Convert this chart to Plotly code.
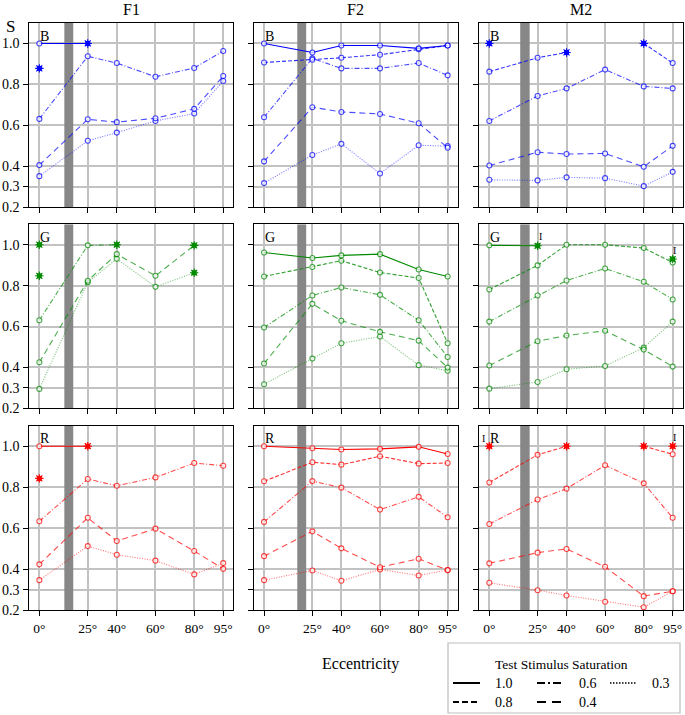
import plotly.graph_objects as go

# ---------------- data ----------------
ECC = [0, 25, 40, 60, 80, 95]
ECC_LABELS = ["0°", "25°", "40°", "60°", "80°", "95°"]
SATURATIONS = ["1.0", "0.8", "0.6", "0.4", "0.3"]
COLUMNS = ["F1", "F2", "M2"]
ROWS = ["B", "G", "R"]
Y_TICKS = [0.2, 0.3, 0.4, 0.6, 0.8, 1.0]
Y_LABELS = ["0.2", "0.3", "0.4", "0.6", "0.8", "1.0"]
N = None

# each panel: series in saturation order 1.0, 0.8, 0.6, 0.4, 0.3
F1_B = [
    [1.00, 1.00, N, N, N, N],
    [0.878, N, N, N, N, N],
    [0.631, 0.937, 0.904, 0.837, 0.880, 0.963],
    [0.405, 0.629, 0.615, 0.634, 0.680, 0.841],
    [0.351, 0.524, 0.564, 0.621, 0.657, 0.816],
]
F1_G = [
    [1.00, N, N, N, N, N],
    [0.848, N, N, N, N, N],
    [0.631, 0.997, 1.00, N, N, N],
    [0.425, 0.824, 0.954, 0.848, 0.997, N],
    [0.295, 0.816, 0.931, 0.794, 0.863, N],
]
F1_R = [
    [1.00, 1.00, N, N, N, N],
    [0.843, N, N, N, N, N],
    [0.634, 0.840, 0.807, 0.848, 0.918, 0.905],
    [0.424, 0.651, 0.538, 0.598, 0.489, 0.402],
    [0.347, 0.513, 0.471, 0.442, 0.375, 0.430],
]
F2_B = [
    [1.00, 0.956, 0.990, 0.990, 0.976, 0.990],
    [0.907, 0.920, 0.930, 0.945, 0.972, 0.990],
    [0.639, 0.927, 0.878, 0.878, 0.904, 0.844],
    [0.423, 0.688, 0.665, 0.655, 0.610, 0.490],
    [0.317, 0.454, 0.509, 0.364, 0.502, 0.498],
]
F2_G = [
    [0.962, 0.935, 0.948, 0.954, 0.879, 0.845],
    [0.845, 0.891, 0.922, 0.864, 0.837, 0.518],
    [0.595, 0.752, 0.791, 0.755, 0.631, 0.451],
    [0.419, 0.711, 0.628, 0.574, 0.531, 0.399],
    [0.318, 0.443, 0.518, 0.551, 0.411, 0.384],
]
F2_R = [
    [1.00, 0.990, 0.984, 0.987, 0.997, 0.962],
    [0.829, 0.922, 0.910, 0.951, 0.915, 0.918],
    [0.631, 0.830, 0.798, 0.691, 0.753, 0.654],
    [0.464, 0.585, 0.502, 0.410, 0.451, 0.396],
    [0.347, 0.394, 0.344, 0.399, 0.370, 0.396],
]
M2_B = [
    [1.00, N, N, N, N, N],
    [0.862, 0.930, 0.956, N, 1.00, 0.904],
    [0.621, 0.743, 0.780, 0.872, 0.790, 0.780],
    [0.403, 0.468, 0.459, 0.462, 0.397, 0.499],
    [0.333, 0.330, 0.345, 0.341, 0.302, 0.372],
]
M2_G = [
    [0.997, 0.995, N, N, N, 0.930],
    [0.781, 0.899, 1.00, 1.00, 0.984, 0.913],
    [0.624, 0.752, 0.825, 0.884, 0.819, 0.732],
    [0.409, 0.528, 0.556, 0.579, 0.487, 0.404],
    [0.296, 0.329, 0.391, 0.407, 0.497, 0.624],
]
M2_R = [
    [1.00, N, N, N, N, 1.00],
    [0.823, 0.958, 1.00, N, 1.00, 0.961],
    [0.621, 0.740, 0.793, 0.907, 0.819, 0.651],
    [0.429, 0.481, 0.499, 0.412, 0.269, 0.293],
    [0.334, 0.298, 0.272, 0.242, 0.215, 0.293],
]

# filled (saturated) points: (series index, eccentricity index)
F1_B_STARS = [(0, 1), (1, 0)]
F1_G_STARS = [(0, 0), (1, 0), (2, 2), (3, 4), (4, 4)]
F1_R_STARS = [(0, 1), (1, 0)]
F2_B_STARS = []
F2_G_STARS = []
F2_R_STARS = []
M2_B_STARS = [(0, 0), (1, 2), (1, 4)]
M2_G_STARS = [(0, 1), (0, 5)]
M2_R_STARS = [(0, 0), (0, 5), (1, 2), (1, 4)]

# small "I" marks next to some points: (column, row, ecc index)
I_MARKS = [("M2", "G", 1), ("M2", "G", 5), ("M2", "R", 0), ("M2", "R", 5)]

# grey exclusion band (degrees) per column
BAND = {"F1": (12.9, 17.5), "F2": (17.2, 21.8), "M2": (16.0, 20.9)}
Y_RANGE = [0.2, 1.1]
X_RANGE = [-5.2, 100.2]

PANELS = {
    ("F1", "B"): (F1_B, F1_B_STARS), ("F1", "G"): (F1_G, F1_G_STARS), ("F1", "R"): (F1_R, F1_R_STARS),
    ("F2", "B"): (F2_B, F2_B_STARS), ("F2", "G"): (F2_G, F2_G_STARS), ("F2", "R"): (F2_R, F2_R_STARS),
    ("M2", "B"): (M2_B, M2_B_STARS), ("M2", "G"): (M2_G, M2_G_STARS), ("M2", "R"): (M2_R, M2_R_STARS),
}

# ---------------- styles ----------------
W, H = 685, 715
FONT = "Liberation Serif"
ROW_COLOR = {"B": "#0000ff", "G": "#008a00", "R": "#ff0000"}
ROW_RGB = {"B": (0, 0, 255), "G": (0, 138, 0), "R": (255, 0, 0)}
DASH = ["solid", "4px,2px", "5px,2px,1px,2px", "6px,4px", "1px,1.5px"]
ALPHA = [1.0, 0.8, 0.7, 0.7, 0.55]
COL_PX = {"F1": (29.3, 233.3), "F2": (254.0, 457.7), "M2": (479.3, 682.7)}
ROW_PX = {"B": (23.0, 207.0), "G": (224.3, 408.3), "R": (425.7, 610.3)}


def PX(x):
    return x / W


def PY(y):
    return 1 - y / H


fig = go.Figure()
layout = {}
shapes = []
annotations = []

for ci, col in enumerate(COLUMNS):
    for ri, row in enumerate(ROWS):
        k = ri * 3 + ci + 1
        xa = "x" if k == 1 else f"x{k}"
        ya = "y" if k == 1 else f"y{k}"
        xkey = "xaxis" if k == 1 else f"xaxis{k}"
        ykey = "yaxis" if k == 1 else f"yaxis{k}"
        x0, x1 = COL_PX[col]
        y0, y1 = ROW_PX[row]
        layout[xkey] = dict(
            domain=[PX(x0), PX(x1)], anchor=ya, range=X_RANGE, automargin=False,
            tickvals=ECC, ticktext=ECC_LABELS, showticklabels=(row == "R"),
            ticks="outside", ticklen=5, tickcolor="black", tickwidth=1,
            showgrid=True, gridcolor="#c2c2c2", gridwidth=2,
            showline=True, linecolor="black", linewidth=1, mirror=True,
            zeroline=False, tickfont=dict(family=FONT, size=13.5, color="black"),
        )
        layout[ykey] = dict(
            domain=[PY(y1), PY(y0)], anchor=xa, range=Y_RANGE, automargin=False,
            tickvals=Y_TICKS, ticktext=Y_LABELS, showticklabels=(col == "F1"),
            ticks="outside", ticklen=5, tickcolor="black", tickwidth=1,
            ticklabelstandoff=1,
            showgrid=True, gridcolor="#c2c2c2", gridwidth=2,
            showline=True, linecolor="black", linewidth=1, mirror=True,
            zeroline=False, tickfont=dict(family=FONT, size=14, color="black"),
        )
        # grey band as a filled trace (above gridlines, below data)
        b0, b1 = BAND[col]
        fig.add_trace(go.Scatter(
            x=[b0, b1, b1, b0, b0], y=[Y_RANGE[0], Y_RANGE[0], Y_RANGE[1], Y_RANGE[1], Y_RANGE[0]],
            xaxis=xa, yaxis=ya, mode="lines", fill="toself", fillcolor="#878787",
            line=dict(width=0, color="#878787"), showlegend=False, hoverinfo="skip",
        ))
        annotations.append(dict(text=row, xref=f"{xa} domain", yref=f"{ya} domain",
                                x=0.045, y=0.98, xanchor="left", yanchor="top",
                                showarrow=False, font=dict(family=FONT, size=14, color="black")))

        series, stars = PANELS[(col, row)]
        r, g, b = ROW_RGB[row]
        color = ROW_COLOR[row]
        for si in range(len(SATURATIONS) - 1, -1, -1):
            vals = series[si]
            sizes = [0 if (si, j) in stars else 5 for j in range(len(ECC))]
            fig.add_trace(go.Scatter(
                x=ECC, y=vals, xaxis=xa, yaxis=ya, mode="lines+markers",
                line=dict(color=f"rgba({r},{g},{b},{ALPHA[si]})", width=1.1, dash=DASH[si]),
                marker=dict(symbol="circle", size=sizes, color="white",
                            line=dict(color=color, width=1.1)),
                showlegend=False, hoverinfo="skip", cliponaxis=False,
            ))
        if stars:
            sx = [ECC[j] for (_, j) in stars]
            sy = [series[s][j] for (s, j) in stars]
            fig.add_trace(go.Scatter(
                x=sx, y=sy, xaxis=xa, yaxis=ya, mode="markers",
                marker=dict(symbol="asterisk-open", size=7, color=color,
                            line=dict(color=color, width=1.1)),
                showlegend=False, hoverinfo="skip", cliponaxis=False,
            ))
            fig.add_trace(go.Scatter(
                x=sx, y=sy, xaxis=xa, yaxis=ya, mode="markers",
                marker=dict(symbol="square", size=5, color=color, line=dict(width=0)),
                showlegend=False, hoverinfo="skip", cliponaxis=False,
            ))

# "I" marks
I_SHIFT = {0: (-6, 8), 1: (3, 9), 5: (2, 9)}
for col, row, j in I_MARKS:
    k = ROWS.index(row) * 3 + COLUMNS.index(col) + 1
    xa = "x" if k == 1 else f"x{k}"
    ya = "y" if k == 1 else f"y{k}"
    series, _ = PANELS[(col, row)]
    dx, dy = I_SHIFT[j]
    annotations.append(dict(text="I", x=ECC[j], y=series[0][j], xref=xa, yref=ya,
                            xshift=dx, yshift=dy, showarrow=False,
                            font=dict(family=FONT, size=10, color="black")))

# column titles
for col in COLUMNS:
    x0, x1 = COL_PX[col]
    annotations.append(dict(text=col, x=PX((x0 + x1) / 2), y=PY(10), xref="paper", yref="paper",
                            showarrow=False, xanchor="center", yanchor="middle",
                            font=dict(family=FONT, size=16, color="black")))
# y-axis name
annotations.append(dict(text="S", x=PX(10), y=PY(27), xref="paper", yref="paper",
                        showarrow=False, xanchor="center", yanchor="middle",
                        font=dict(family=FONT, size=17, color="black")))
# x-axis name
annotations.append(dict(text="Eccentricity", x=PX(360), y=PY(664), xref="paper", yref="paper",
                        showarrow=False, xanchor="center", yanchor="middle",
                        font=dict(family=FONT, size=16, color="black")))

# legend (manual)
shapes.append(dict(type="rect", xref="paper", yref="paper", x0=PX(448), x1=PX(680),
                   y0=PY(713), y1=PY(643), line=dict(color="#bdbdbd", width=1.2),
                   fillcolor="rgba(0,0,0,0)"))
annotations.append(dict(text="Test Stimulus Saturation", x=PX(561), y=PY(664), xref="paper",
                        yref="paper", showarrow=False, xanchor="center", yanchor="middle",
                        font=dict(family=FONT, size=13.5, color="black")))
LEG_DASH = ["solid", "6px,3px", "8px,3px,2px,3px", "9px,6px", "1.5px,1.5px"]
LEG_POS = [(453, 683), (453, 702), (537, 683), (537, 702), (610, 683)]
for si, lab in enumerate(SATURATIONS):
    lx, ly = LEG_POS[si]
    shapes.append(dict(type="line", xref="paper", yref="paper", x0=PX(lx), x1=PX(lx + 27),
                       y0=PY(ly), y1=PY(ly),
                       line=dict(color="black", width=2 if si < 4 else 1.3, dash=LEG_DASH[si])))
    annotations.append(dict(text=lab, x=PX(lx + 40), y=PY(ly), xref="paper", yref="paper",
                            showarrow=False, xanchor="left", yanchor="middle",
                            font=dict(family=FONT, size=14, color="black")))

fig.update_layout(
    width=W, height=H, margin=dict(l=0, r=0, t=0, b=0), autosize=False,
    paper_bgcolor="white", plot_bgcolor="white",
    showlegend=False, shapes=shapes, annotations=annotations,
    font=dict(family=FONT, color="black"),
    **layout,
)
fig.write_html(
    "out.html",
    config={"displayModeBar": False},
    post_script="document.body.style.margin='0px';document.body.style.overflow='hidden';",
)
